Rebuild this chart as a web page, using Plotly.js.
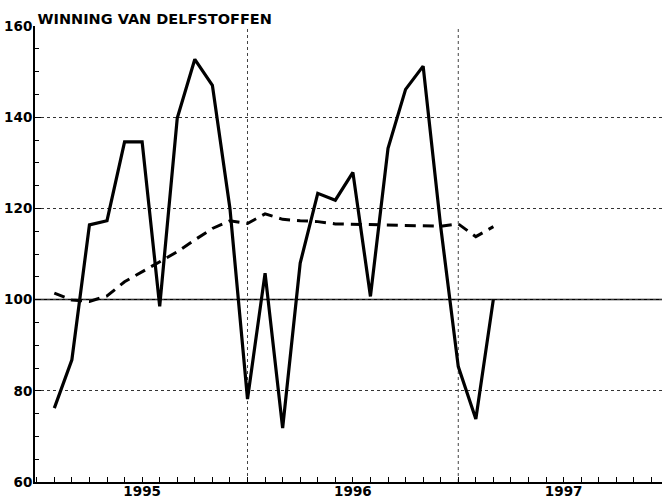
<!DOCTYPE html>
<html>
<head>
<meta charset="utf-8">
<script src="https://cdn.plot.ly/plotly-3.0.1.min.js"></script>
<style>
  html, body { margin: 0; padding: 0; background: #fff; overflow: hidden; }
  #chart { width: 662px; height: 501px; }
</style>
</head>
<body>
<div id="chart"></div>
<script>
// Month index (1 = Jan 1995)
const monthIndex = [1,2,3,4,5,6,7,8,9,10,11,12,13,14,15,16,17,18,19,20,21,22,23,24,25,26];
// Monthly index values (solid line)
const monthlyValues = [76.2,86.8,116.4,117.3,134.6,134.6,98.5,139.8,152.7,147.0,120.0,78.2,105.8,71.8,108.0,123.3,121.8,127.9,100.7,133.2,146.1,151.2,116.0,85.3,73.8,100.1];
// Trend (dashed line)
const trendValues = [101.4,99.9,99.6,100.8,103.9,106.1,108.3,110.5,113.1,115.6,117.3,116.7,118.8,117.6,117.3,117.1,116.6,116.5,116.5,116.4,116.3,116.2,116.1,116.6,113.8,116.0];
// Axis labels
const yearLabels = ['1995','1996','1997'];
const yearLabelPos = [6,18,30];
const yearBoundaries = [12,24];
const yTickVals = [60,80,100,120,140,160];
const baseLine = 100;
const chartTitle = 'WINNING VAN DELFSTOFFEN';

const FONT = 'DejaVu Sans, sans-serif';

const traces = [
  {
    x: monthIndex, y: trendValues, type: 'scatter', mode: 'lines',
    line: {color: '#000', width: 3, dash: '11px,7px'}, hoverinfo: 'skip'
  },
  {
    x: monthIndex, y: monthlyValues, type: 'scatter', mode: 'lines',
    line: {color: '#000', width: 3.2}, hoverinfo: 'skip'
  }
];

const shapes = yearBoundaries.map(v => ({
  type: 'line', xref: 'x', yref: 'paper', x0: v, x1: v, y0: 0, y1: 1,
  line: {color: '#444', width: 1, dash: 'dot'}, layer: 'below'
}));
shapes.push({
  type: 'line', xref: 'paper', yref: 'y', x0: 0, x1: 1, y0: baseLine, y1: baseLine,
  line: {color: '#000', width: 1.5}, layer: 'below'
});

const layout = {
  width: 662, height: 501,
  margin: {l: 35, r: 0, t: 26, b: 19, pad: 0},
  paper_bgcolor: '#fff', plot_bgcolor: '#fff',
  showlegend: false,
  font: {family: FONT, color: '#000', size: 14},
  title: {
    text: '<b>' + chartTitle + '</b>',
    font: {family: FONT, size: 14.5, color: '#000'},
    xref: 'paper', x: 0.004, xanchor: 'left',
    yref: 'container', y: 1 - 18.5/501, yanchor: 'middle',
    pad: {l: 0, r: 0, t: 0, b: 0}
  },
  xaxis: {
    range: [-0.1, 35.6],
    tickvals: yearLabelPos, ticktext: yearLabels.map(s => '<b>' + s + '</b>'),
    ticks: 'inside', ticklen: 5, tickcolor: '#000', tickwidth: 1,
    minor: {dtick: 1, tick0: 0, ticks: 'inside', ticklen: 5, tickcolor: '#000', tickwidth: 1, showgrid: false},
    showgrid: false, zeroline: false,
    showline: true, linecolor: '#000', linewidth: 2,
    ticklabelstandoff: -4,
    tickfont: {family: FONT, size: 13.5, color: '#000'}
  },
  yaxis: {
    range: [60, 160],
    tickvals: yTickVals, ticktext: yTickVals.map(v => '<b>' + v + '</b>'),
    ticks: 'inside', ticklen: 6, tickcolor: '#000', tickwidth: 1,
    minor: {dtick: 5, tick0: 60, ticks: 'inside', ticklen: 4, tickcolor: '#000', tickwidth: 1, showgrid: false},
    showgrid: true, gridcolor: '#333', gridwidth: 1, griddash: 'dot',
    zeroline: false,
    showline: true, linecolor: '#000', linewidth: 2,
    ticklabelstandoff: -2,
    tickfont: {family: FONT, size: 13.5, color: '#000'}
  },
  shapes: shapes
};

Plotly.newPlot('chart', traces, layout, {staticPlot: true, displayModeBar: false});
</script>
</body>
</html>
